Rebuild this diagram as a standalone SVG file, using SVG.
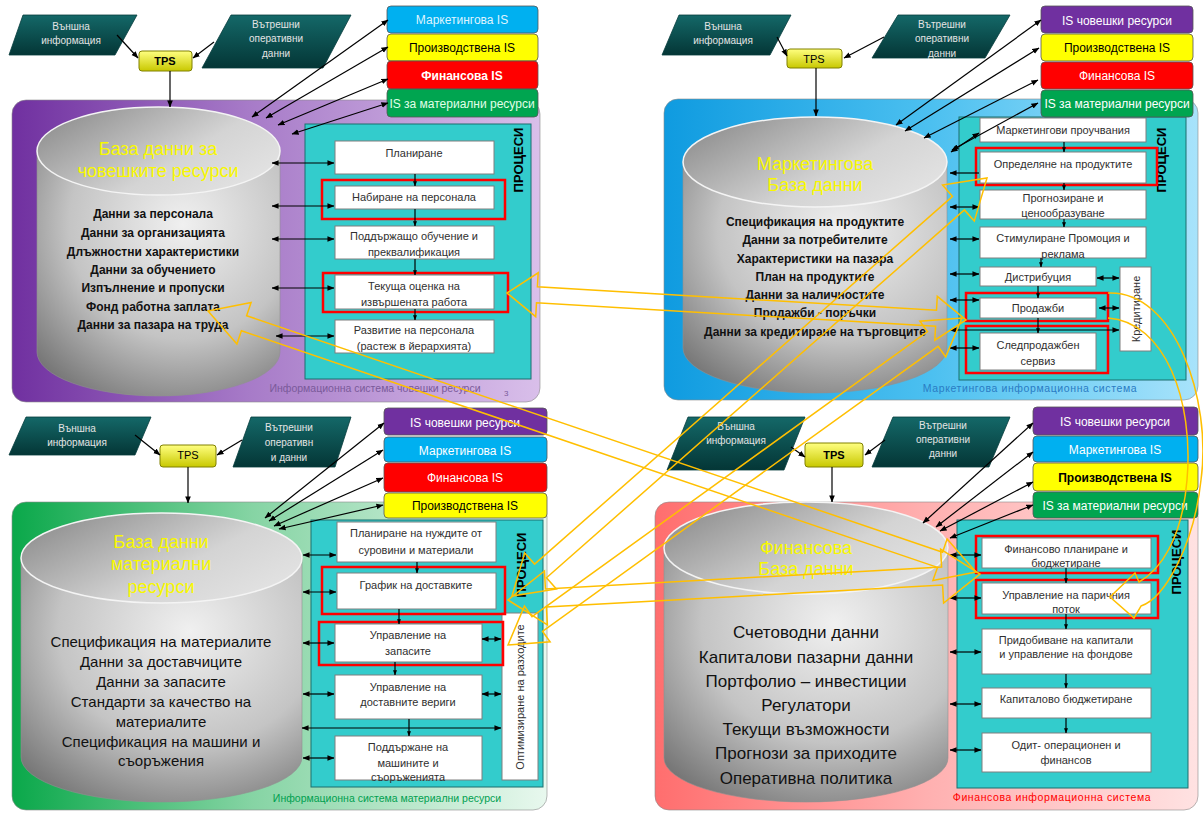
<svg xmlns="http://www.w3.org/2000/svg" width="1203" height="820" viewBox="0 0 1203 820">
<defs>
<marker id="ah" viewBox="0 0 8 8" refX="7.5" refY="4" markerWidth="7" markerHeight="7" markerUnits="userSpaceOnUse" orient="auto-start-reverse"><path d="M0,0.8 L8,4 L0,7.2 Z" fill="#000"/></marker>
<marker id="sm" viewBox="0 0 8 8" refX="7.5" refY="4" markerWidth="5" markerHeight="5" markerUnits="userSpaceOnUse" orient="auto-start-reverse"><path d="M0,0.8 L8,4 L0,7.2 Z" fill="#000"/></marker>
<linearGradient id="gHR" x1="0" y1="0" x2="1" y2="0"><stop offset="0" stop-color="#7030a0"/><stop offset="0.45" stop-color="#a77bc8"/><stop offset="1" stop-color="#d9bfea"/></linearGradient>
<linearGradient id="gMkt" x1="0" y1="0" x2="1" y2="0"><stop offset="0" stop-color="#0f9be0"/><stop offset="0.5" stop-color="#4cc0f0"/><stop offset="1" stop-color="#a8e3fb"/></linearGradient>
<linearGradient id="gMat" x1="0" y1="0" x2="1" y2="0"><stop offset="0" stop-color="#0aa84a"/><stop offset="0.45" stop-color="#86d4a4"/><stop offset="1" stop-color="#e8f8ee"/></linearGradient>
<linearGradient id="gFin" x1="0" y1="0" x2="1" y2="0"><stop offset="0" stop-color="#ff6e6e"/><stop offset="0.5" stop-color="#ffb0b0"/><stop offset="1" stop-color="#ffe2e2"/></linearGradient>
<radialGradient id="gCyl" cx="0.6" cy="0.3" r="0.85"><stop offset="0" stop-color="#f0f0f0"/><stop offset="0.55" stop-color="#c4c4c4"/><stop offset="1" stop-color="#6e6e6e"/></radialGradient>
<linearGradient id="gTop" x1="0" y1="0.2" x2="1" y2="0.8"><stop offset="0" stop-color="#8e8e8e"/><stop offset="0.6" stop-color="#d4d4d4"/><stop offset="1" stop-color="#e4e4e4"/></linearGradient>
<linearGradient id="gPara" x1="0" y1="0" x2="0" y2="1"><stop offset="0" stop-color="#146868"/><stop offset="1" stop-color="#043636"/></linearGradient>
<linearGradient id="gTPS" x1="0" y1="0" x2="0" y2="1"><stop offset="0" stop-color="#ffff80"/><stop offset="1" stop-color="#c8c800"/></linearGradient>
</defs>
<style>
text{font-family:"Liberation Sans",Arial,sans-serif}
.pan{stroke:#8a8a8a;stroke-width:0.6}
.cyl{fill:url(#gCyl);stroke:#909090;stroke-width:0.6}
.ctop{fill:url(#gTop);stroke:#f4f4f4;stroke-width:1.5}
.teal{fill:#33cccc;stroke:#1d6f6f;stroke-width:1}
.box{fill:#fff;stroke:#7f7f7f;stroke-width:1}
.red{fill:none;stroke:#ff0000;stroke-width:2.5}
.pt{font-size:11px;fill:#303030;text-anchor:middle}
.dat{font-size:12px;font-weight:bold;fill:#111;text-anchor:middle}
.dat2{font-size:15px;fill:#111;text-anchor:middle}
.dat3{font-size:17px;fill:#111;text-anchor:middle}
.ttl{font-size:18px;fill:#f8f800;text-anchor:middle}
.proc{font-size:13px;font-weight:bold;fill:#000;text-anchor:middle}
.para{fill:url(#gPara);stroke:#063c3c;stroke-width:0.8}
.ptx{font-size:10px;fill:#e4e4e4;text-anchor:middle}
.tps{fill:url(#gTPS);stroke:#808000;stroke-width:1}
.tpt{font-size:11px;fill:#000;text-anchor:middle}
.is{stroke:#555;stroke-width:0.8}
.ist{font-size:12px;text-anchor:middle}
.ln{stroke:#000;stroke-width:1.2;fill:none}
.dbl{marker-start:url(#ah);marker-end:url(#ah)}
.one{marker-end:url(#ah)}
.vc{stroke:#000;stroke-width:1.2;marker-end:url(#sm)}
.ya{fill:none;stroke:#ffbf00;stroke-width:1.5;stroke-linejoin:miter}
.cap{font-size:10.5px;text-anchor:middle}
</style>
<rect width="1203" height="820" fill="#ffffff"/>

<!-- ============ TOP-LEFT : HR ============ -->
<g id="hr-panel">
<rect class="pan" x="12" y="100" width="528" height="302" rx="14" fill="url(#gHR)"/>
<text class="cap" x="375" y="392" fill="#7a5a9a">Информационна система човешки ресурси</text>
<text x="504" y="396" font-size="8" fill="#7a5a9a">3</text>
</g>
<g id="hr-db">
<path class="cyl" d="M37,151 L37,352 A121.5,44 0 0 0 280,352 L280,151 Z"/>
<ellipse class="ctop" cx="158.5" cy="151" rx="121.5" ry="44"/>
<text class="ttl" x="158" y="155">База данни за</text>
<text class="ttl" x="158" y="177">човешките ресурси</text>
<text class="dat" x="153" y="218">Данни за персонала</text>
<text class="dat" x="153" y="237">Данни за организацията</text>
<text class="dat" x="153" y="256">Длъжностни характеристики</text>
<text class="dat" x="153" y="274">Данни за обучението</text>
<text class="dat" x="153" y="292">Изпълнение  и пропуски</text>
<text class="dat" x="153" y="311">Фонд работна заплата</text>
<text class="dat" x="153" y="329">Данни за пазара на труда</text>
</g>
<g id="hr-processes">
<rect class="teal" x="305" y="124" width="226" height="255"/>
<text class="proc" transform="translate(523,160) rotate(-90)">ПРОЦЕСИ</text>
</g>
<g id="hr-p1"><rect class="box" x="335" y="141" width="159" height="33"/><text class="pt" x="414" y="157">Планиране</text></g>
<g id="hr-p2"><rect class="box" x="335" y="186" width="159" height="23"/><text class="pt" x="414" y="201">Набиране на персонала</text><rect class="red" x="322" y="180" width="183" height="39"/></g>
<g id="hr-p3"><rect class="box" x="335" y="226" width="159" height="33"/><text class="pt" x="414" y="240">Поддържащо обучение и</text><text class="pt" x="414" y="256">преквалификация</text></g>
<g id="hr-p4"><rect class="box" x="335" y="275" width="159" height="34"/><text class="pt" x="414" y="290">Текуща оценка на</text><text class="pt" x="414" y="306">извършената работа</text><rect class="red" x="323" y="273" width="185" height="39"/></g>
<g id="hr-p5"><rect class="box" x="335" y="320" width="159" height="33"/><text class="pt" x="414" y="334">Развитие на персонала</text><text class="pt" x="414" y="350">(растеж в йерархията)</text></g>
<g id="hr-ext"><polygon class="para" points="23,15 137,15 115,55 9,55"/><text class="ptx" x="71" y="30">Външна</text><text class="ptx" x="71" y="44">информация</text></g>
<g id="hr-int"><polygon class="para" points="231,15 351,15 323,68 202,68"/><text class="ptx" x="276" y="28">Вътрешни</text><text class="ptx" x="276" y="42">оперативни</text><text class="ptx" x="276" y="57">данни</text></g>
<g id="hr-tps"><rect class="tps" x="139" y="51" width="53" height="20" rx="3"/><text class="tpt" x="165" y="65" font-weight="bold">TPS</text></g>
<g id="hr-is">
<rect class="is" x="387" y="6" width="151" height="27" rx="4" fill="#00b0f0"/><text class="ist" x="462" y="24" fill="#dff4ff">Маркетингова IS</text>
<rect class="is" x="387" y="34" width="151" height="27" rx="4" fill="#ffff00"/><text class="ist" x="462" y="52" fill="#000">Производствена IS</text>
<rect class="is" x="387" y="61" width="151" height="28" rx="4" fill="#ff0000"/><text class="ist" x="462" y="80" fill="#fff" font-weight="bold">Финансова  IS</text>
<rect class="is" x="387" y="89" width="151" height="28" rx="4" fill="#00a550"/><text class="ist" x="462" y="108" fill="#e0ffe8" font-size="11.5">IS за материални ресурси</text>
</g>

<!-- ============ TOP-RIGHT : MARKETING ============ -->
<g id="mkt-panel">
<rect class="pan" x="664" y="99" width="534" height="301" rx="14" fill="url(#gMkt)"/>
<text class="cap" x="1030" y="392" fill="#2a7cc4" letter-spacing="0.6">Маркетингова информационна система</text>
</g>
<g id="mkt-db">
<path class="cyl" d="M683,162 L683,348 A132,45 0 0 0 947,348 L947,162 Z"/>
<ellipse class="ctop" cx="815" cy="162" rx="132" ry="45"/>
<text class="ttl" x="815" y="170">Маркетингова</text>
<text class="ttl" x="815" y="191">База данни</text>
<text class="dat" x="815" y="226">Спецификация на продуктите</text>
<text class="dat" x="815" y="244">Данни за потребителите</text>
<text class="dat" x="815" y="263">Характеристики на пазара</text>
<text class="dat" x="815" y="281">План на продуктите</text>
<text class="dat" x="815" y="299">Данни за наличностите</text>
<text class="dat" x="815" y="317">Продажби - поръчки</text>
<text class="dat" x="815" y="336">Данни за кредитиране на  търговците</text>
</g>
<g id="mkt-processes">
<rect class="teal" x="959" y="117" width="227" height="263"/>
<text class="proc" transform="translate(1166,160) rotate(-90)">ПРОЦЕСИ</text>
</g>
<g id="mkt-p1"><rect class="box" x="980" y="118" width="166" height="24"/><text class="pt" x="1063" y="134">Маркетингови проучвания</text></g>
<g id="mkt-p2"><rect class="box" x="980" y="152" width="166" height="31"/><text class="pt" x="1063" y="168">Определяне на продуктите</text><rect class="red" x="976" y="148" width="181" height="37"/></g>
<g id="mkt-p3"><rect class="box" x="980" y="190" width="166" height="29"/><text class="pt" x="1063" y="202">Прогнозиране и</text><text class="pt" x="1063" y="217">ценообразуване</text></g>
<g id="mkt-p4"><rect class="box" x="980" y="227" width="166" height="31"/><text class="pt" x="1063" y="242">Стимулиране Промоция и</text><text class="pt" x="1063" y="258">реклама</text></g>
<g id="mkt-p5"><rect class="box" x="980" y="267" width="116" height="19"/><text class="pt" x="1038" y="281">Дистрибуция</text></g>
<g id="mkt-p6"><rect class="box" x="980" y="298" width="116" height="20"/><text class="pt" x="1038" y="312">Продажби</text><rect class="red" x="966" y="293" width="142" height="28"/></g>
<g id="mkt-p7"><rect class="box" x="980" y="333" width="116" height="37"/><text class="pt" x="1038" y="349">Следпродажбен</text><text class="pt" x="1038" y="365">сервиз</text><rect class="red" x="966" y="326" width="142" height="47"/></g>
<g id="mkt-p8"><rect class="box" x="1120" y="267" width="31" height="84"/><text class="pt" transform="translate(1140,309) rotate(-90)">Кредитиране</text></g>
<g id="mkt-ext"><polygon class="para" points="679,15 791,15 770,55 662,55"/><text class="ptx" x="723" y="30">Външна</text><text class="ptx" x="723" y="44">информация</text></g>
<g id="mkt-int"><polygon class="para" points="898,15 1010,15 985,58 872,58"/><text class="ptx" x="942" y="28">Вътрешни</text><text class="ptx" x="942" y="42">оперативни</text><text class="ptx" x="942" y="57">данни</text></g>
<g id="mkt-tps"><rect class="tps" x="787" y="49" width="55" height="19" rx="3"/><text class="tpt" x="814" y="63">TPS</text></g>
<g id="mkt-is">
<rect class="is" x="1041" y="6" width="152" height="27" rx="4" fill="#7030a0"/><text class="ist" x="1117" y="25" fill="#fff" font-size="13">IS човешки ресурси</text>
<rect class="is" x="1041" y="34" width="152" height="27" rx="4" fill="#ffff00"/><text class="ist" x="1117" y="52" fill="#000">Производствена IS</text>
<rect class="is" x="1041" y="62" width="152" height="27" rx="4" fill="#ff0000"/><text class="ist" x="1117" y="80" fill="#fff">Финансова  IS</text>
<rect class="is" x="1041" y="90" width="152" height="27" rx="4" fill="#00a550"/><text class="ist" x="1117" y="108" fill="#fff">IS за материални ресурси</text>
</g>

<!-- ============ BOTTOM-LEFT : MATERIALS ============ -->
<g id="mat-panel">
<rect class="pan" x="12" y="502" width="535" height="308" rx="14" fill="url(#gMat)"/>
<text class="cap" x="387" y="802" fill="#00a050" font-size="10">Информационна система материални ресурси</text>
</g>
<g id="mat-db">
<path class="cyl" d="M21,558 L21,757 A140.5,45 0 0 0 302,757 L302,558 Z"/>
<ellipse class="ctop" cx="161.5" cy="558" rx="140.5" ry="45"/>
<text class="ttl" x="161" y="548">База данни</text>
<text class="ttl" x="161" y="570">материални</text>
<text class="ttl" x="161" y="593">ресурси</text>
<text class="dat2" x="161" y="647">Спецификация на материалите</text>
<text class="dat2" x="161" y="667">Данни за доставчиците</text>
<text class="dat2" x="161" y="687">Данни за запасите</text>
<text class="dat2" x="161" y="707">Стандарти за качество на</text>
<text class="dat2" x="161" y="727">материалите</text>
<text class="dat2" x="161" y="747">Спецификация на машини и</text>
<text class="dat2" x="161" y="766">съоръжения</text>
</g>
<g id="mat-processes">
<rect class="teal" x="311" y="520" width="232" height="267"/>
<text class="proc" transform="translate(526,565) rotate(-90)">ПРОЦЕСИ</text>
</g>
<g id="mat-opt"><rect class="box" x="502" y="613" width="36" height="167"/><text class="pt" font-size="11.5" transform="translate(524,697) rotate(-90)">Оптимизиране на разходите</text></g>
<g id="mat-p1"><rect class="box" x="337" y="522" width="159" height="40"/><text class="pt" x="416" y="537">Планиране на нуждите от</text><text class="pt" x="416" y="554">суровини и материали</text></g>
<g id="mat-p2"><rect class="box" x="337" y="573" width="159" height="36"/><text class="pt" x="416" y="589">График на доставките</text><rect class="red" x="322" y="567" width="183" height="47"/></g>
<g id="mat-p3"><rect class="box" x="335" y="624" width="147" height="38"/><text class="pt" x="408" y="639">Управление на</text><text class="pt" x="408" y="655">запасите</text><rect class="red" x="319" y="622" width="184" height="43"/></g>
<g id="mat-p4"><rect class="box" x="335" y="675" width="147" height="44"/><text class="pt" x="408" y="691">Управление на</text><text class="pt" x="408" y="706">доставните вериги</text></g>
<g id="mat-p5"><rect class="box" x="335" y="736" width="147" height="44"/><text class="pt" x="408" y="751">Поддържане на</text><text class="pt" x="408" y="767">машините и</text><text class="pt" x="408" y="781">съоръженията</text></g>
<g id="mat-ext"><polygon class="para" points="26,417 151,417 135,455 9,455"/><text class="ptx" x="77" y="432" font-size="10.5">Външна</text><text class="ptx" x="77" y="446" font-size="10.5">информация</text></g>
<g id="mat-int"><polygon class="para" points="251,417 351,417 335,467 233,467"/><text class="ptx" x="289" y="431" font-size="10.5">Вътрешни</text><text class="ptx" x="289" y="446" font-size="10.5">оперативн</text><text class="ptx" x="289" y="461" font-size="10.5">и данни</text></g>
<g id="mat-tps"><rect class="tps" x="160" y="445" width="56" height="22" rx="3"/><text class="tpt" x="188" y="459" font-size="9">TPS</text></g>
<g id="mat-is">
<rect class="is" x="384" y="408" width="163" height="27" rx="4" fill="#7030a0"/><text class="ist" x="465" y="427" fill="#fff" font-size="14">IS човешки ресурси</text>
<rect class="is" x="384" y="437" width="163" height="25" rx="4" fill="#00b0f0"/><text class="ist" x="465" y="455" fill="#fff" font-size="14">Маркетингова IS</text>
<rect class="is" x="384" y="463" width="163" height="29" rx="4" fill="#ff0000"/><text class="ist" x="465" y="482" fill="#fff" font-size="13">Финансова IS</text>
<rect class="is" x="384" y="493" width="163" height="25" rx="4" fill="#ffff00"/><text class="ist" x="465" y="510" fill="#000">Производствена IS</text>
</g>

<!-- ============ BOTTOM-RIGHT : FINANCE ============ -->
<g id="fin-panel">
<rect class="pan" x="655" y="502" width="543" height="308" rx="14" fill="url(#gFin)"/>
<text class="cap" x="1052" y="801" fill="#ff0000" letter-spacing="0.6">Финансова информационна система</text>
</g>
<g id="fin-db">
<path class="cyl" d="M664,548 L664,758 A142,44 0 0 0 948,758 L948,548 Z"/>
<ellipse class="ctop" cx="806" cy="548" rx="142" ry="46"/>
<text class="ttl" x="806" y="554">Финансова</text>
<text class="ttl" x="806" y="575">База данни</text>
<text class="dat3" x="806" y="638">Счетоводни данни</text>
<text class="dat3" x="806" y="663">Капиталови пазарни данни</text>
<text class="dat3" x="806" y="687">Портфолио – инвестиции</text>
<text class="dat3" x="806" y="711">Регулатори</text>
<text class="dat3" x="806" y="735">Текущи възможности</text>
<text class="dat3" x="806" y="759">Прогнози за приходите</text>
<text class="dat3" x="806" y="784">Оперативна политика</text>
</g>
<g id="fin-processes">
<rect class="teal" x="957" y="520" width="231" height="268"/>
<text class="proc" transform="translate(1181,562) rotate(-90)">ПРОЦЕСИ</text>
</g>
<g id="fin-p1"><rect class="box" x="982" y="538" width="169" height="30"/><text class="pt" x="1066" y="553">Финансово планиране и</text><text class="pt" x="1066" y="567">бюджетиране</text><rect class="red" x="976" y="536" width="182" height="37"/></g>
<g id="fin-p2"><rect class="box" x="982" y="583" width="169" height="31"/><text class="pt" x="1066" y="599">Управление на паричния</text><text class="pt" x="1066" y="613">поток</text><rect class="red" x="976" y="580" width="182" height="38"/></g>
<g id="fin-p3"><rect class="box" x="982" y="629" width="169" height="45"/><text class="pt" x="1066" y="644">Придобиване на капитали</text><text class="pt" x="1066" y="658">и управление на фондове</text></g>
<g id="fin-p4"><rect class="box" x="982" y="688" width="169" height="30"/><text class="pt" x="1066" y="703">Капиталово бюджетиране</text></g>
<g id="fin-p5"><rect class="box" x="982" y="733" width="169" height="39"/><text class="pt" x="1066" y="749">Одит- операционен и</text><text class="pt" x="1066" y="764">финансов</text></g>
<g id="fin-ext"><polygon class="para" points="688,417 805,417 784,470 667,470"/><text class="ptx" x="736" y="430">Външна</text><text class="ptx" x="736" y="444">информация</text></g>
<g id="fin-int"><polygon class="para" points="893,417 1010,417 989,467 872,467"/><text class="ptx" x="943" y="429">Вътрешни</text><text class="ptx" x="943" y="443">оперативни</text><text class="ptx" x="943" y="457">данни</text></g>
<g id="fin-tps"><rect class="tps" x="805" y="443" width="58" height="24" rx="3"/><text class="tpt" x="834" y="459" font-weight="bold">TPS</text></g>
<g id="fin-is">
<rect class="is" x="1033" y="407" width="165" height="28" rx="4" fill="#7030a0"/><text class="ist" x="1115" y="426" fill="#fff" font-size="14">IS човешки ресурси</text>
<rect class="is" x="1033" y="436" width="165" height="26" rx="4" fill="#00b0f0"/><text class="ist" x="1115" y="454" fill="#fff" font-size="14">Маркетингова IS</text>
<rect class="is" x="1033" y="463" width="165" height="28" rx="4" fill="#ffff00"/><text class="ist" x="1115" y="482" fill="#000" font-size="13" font-weight="bold">Производствена IS</text>
<rect class="is" x="1033" y="492" width="165" height="26" rx="4" fill="#00a550"/><text class="ist" x="1115" y="510" fill="#fff">IS за материални ресурси</text>
</g>

<!-- ============ CONNECTORS ============ -->
<g id="connectors">
<!-- HR -->
<line class="ln one" x1="117" y1="35" x2="138" y2="58"/>
<line class="ln one" x1="214" y1="42" x2="193" y2="58"/>
<line class="ln one" x1="170" y1="71" x2="170" y2="107"/>
<line class="ln dbl" x1="388" y1="20" x2="252" y2="117"/>
<line class="ln dbl" x1="388" y1="47" x2="266" y2="118"/>
<line class="ln dbl" x1="388" y1="79" x2="278" y2="125"/>
<line class="ln dbl" x1="388" y1="103" x2="292" y2="134"/>
<line class="ln dbl" x1="272" y1="163" x2="334" y2="163"/>
<line class="ln dbl" x1="272" y1="206" x2="334" y2="206"/>
<line class="ln dbl" x1="272" y1="239" x2="334" y2="239"/>
<line class="ln dbl" x1="272" y1="288" x2="334" y2="288"/>
<line class="ln dbl" x1="276" y1="336" x2="334" y2="336"/>
<line class="vc" x1="415" y1="174" x2="415" y2="186"/>
<line class="vc" x1="415" y1="209" x2="415" y2="226"/>
<line class="vc" x1="415" y1="259" x2="415" y2="275"/>
<line class="vc" x1="415" y1="309" x2="415" y2="320"/>
<!-- MKT -->
<line class="ln one" x1="777" y1="37" x2="787" y2="56"/>
<line class="ln one" x1="884" y1="37" x2="844" y2="58"/>
<line class="ln one" x1="816" y1="68" x2="816" y2="116"/>
<line class="ln dbl" x1="1041" y1="20" x2="896" y2="125"/>
<line class="ln dbl" x1="1039" y1="48" x2="905" y2="131"/>
<line class="ln dbl" x1="1038" y1="80" x2="924" y2="138"/>
<line class="ln dbl" x1="1038" y1="103" x2="952" y2="150"/>
<line class="ln dbl" x1="979" y1="133" x2="951" y2="152"/>
<line class="ln one" x1="979" y1="173" x2="950" y2="173"/>
<line class="ln dbl" x1="950" y1="207" x2="979" y2="207"/>
<line class="ln dbl" x1="950" y1="239" x2="979" y2="239"/>
<line class="ln dbl" x1="950" y1="274" x2="979" y2="274"/>
<line class="ln dbl" x1="950" y1="300" x2="979" y2="300"/>
<line class="ln dbl" x1="950" y1="330" x2="1119" y2="330"/>
<line class="ln dbl" x1="950" y1="348" x2="979" y2="348"/>
<line class="ln dbl" x1="1097" y1="278" x2="1119" y2="278"/>
<line class="ln dbl" x1="1099" y1="308" x2="1119" y2="308"/>
<line class="vc" x1="1064" y1="142" x2="1064" y2="152"/>
<line class="vc" x1="1064" y1="183" x2="1064" y2="190"/>
<line class="vc" x1="1064" y1="219" x2="1064" y2="227"/>
<line class="vc" x1="1041" y1="258" x2="1041" y2="267"/>
<line class="vc" x1="1038" y1="286" x2="1038" y2="298"/>
<line class="vc" x1="1038" y1="318" x2="1038" y2="333"/>
<!-- MAT -->
<line class="ln one" x1="135" y1="435" x2="160" y2="455"/>
<line class="ln one" x1="242" y1="440" x2="217" y2="455"/>
<line class="ln one" x1="188" y1="467" x2="188" y2="503"/>
<line class="ln dbl" x1="384" y1="423" x2="265" y2="518"/>
<line class="ln dbl" x1="383" y1="450" x2="269" y2="521"/>
<line class="ln dbl" x1="383" y1="478" x2="274" y2="526"/>
<line class="ln dbl" x1="383" y1="505" x2="279" y2="529"/>
<line class="ln dbl" x1="303" y1="555" x2="336" y2="555"/>
<line class="ln dbl" x1="303" y1="592" x2="336" y2="592"/>
<line class="ln dbl" x1="303" y1="643" x2="334" y2="643"/>
<line class="ln dbl" x1="303" y1="694" x2="334" y2="694"/>
<line class="ln dbl" x1="303" y1="758" x2="334" y2="758"/>
<line class="ln dbl" x1="482" y1="639" x2="501" y2="639"/>
<line class="ln dbl" x1="482" y1="694" x2="501" y2="694"/>
<line class="ln dbl" x1="302" y1="728" x2="501" y2="728"/>
<line class="vc" x1="417" y1="562" x2="417" y2="573"/>
<line class="vc" x1="399" y1="609" x2="399" y2="624"/>
<line class="vc" x1="395" y1="662" x2="395" y2="675"/>
<line class="vc" x1="409" y1="719" x2="409" y2="736"/>
<!-- FIN -->
<line class="ln one" x1="791" y1="447" x2="805" y2="457"/>
<line class="ln one" x1="885" y1="440" x2="865" y2="455"/>
<line class="ln one" x1="832" y1="467" x2="832" y2="502"/>
<line class="ln dbl" x1="1033" y1="423" x2="923" y2="523"/>
<line class="ln dbl" x1="1033" y1="452" x2="936" y2="527"/>
<line class="ln dbl" x1="1033" y1="482" x2="940" y2="531"/>
<line class="ln dbl" x1="1033" y1="505" x2="950" y2="538"/>
<line class="ln dbl" x1="950" y1="555" x2="981" y2="555"/>
<line class="ln dbl" x1="950" y1="598" x2="981" y2="598"/>
<line class="ln dbl" x1="950" y1="652" x2="981" y2="652"/>
<line class="ln dbl" x1="950" y1="704" x2="981" y2="704"/>
<line class="ln dbl" x1="950" y1="750" x2="981" y2="750"/>
<line class="vc" x1="1066" y1="568" x2="1066" y2="583"/>
<line class="vc" x1="1066" y1="614" x2="1066" y2="629"/>
<line class="vc" x1="1066" y1="674" x2="1066" y2="688"/>
<line class="vc" x1="1066" y1="718" x2="1066" y2="733"/>
</g>

<!-- ============ CROSS-SYSTEM BLOCK ARROWS ============ -->
<g id="links">
<polygon class="ya" points="507,293 538.2,272.8 537.4,286.8 936.5,310.3 937.3,296.3 966,320 934.8,340.2 935.6,326.2 536.5,302.8 535.7,316.7"/>
<polygon class="ya" points="208,311 251.1,302.4 246.6,315.7 942.6,552.2 947.1,538.9 976,572 932.9,580.6 937.5,567.4 241.4,330.8 236.9,344.1"/>
<polygon class="ya" points="508,600 544.5,571 545.4,588.9 941.6,567.1 940.6,549.1 980,574 943.6,603.1 942.6,585.1 546.4,606.9 547.4,624.9"/>
<polygon class="ya" points="512,596 524.7,552.9 534.6,564.1 952.5,196.4 942.6,185.1 987,178 974.3,221.1 964.4,209.9 546.5,577.7 556.4,588.9"/>
<polygon class="ya" points="508,645 524.4,606.1 532,616.7 927.5,331.7 919.9,321.2 962,318 945.7,356.9 938.1,346.3 542.5,631.3 550.1,641.8"/>
<path class="ya" d="M1108,293 C1175,290 1212,400 1201,480 C1194,545 1165,598 1141,606 L1134,618 L1110,597 L1135,573 L1139,582 C1160,570 1182,540 1187,480 C1194,400 1165,322 1108,318"/>
</g>
</svg>
